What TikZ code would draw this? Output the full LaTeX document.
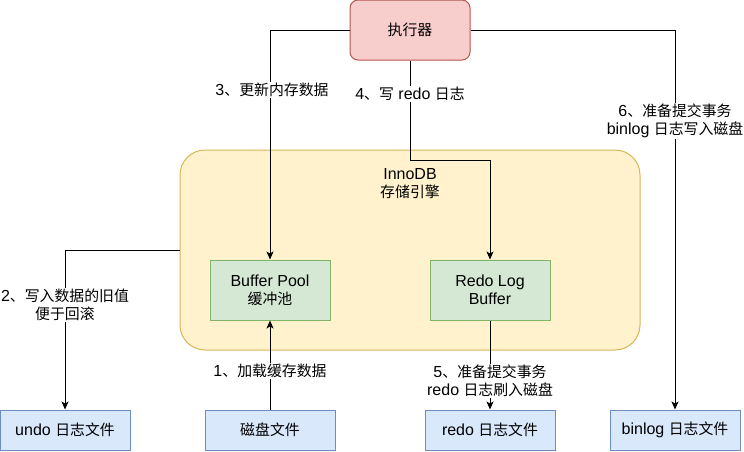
\documentclass[tikz,border=0pt]{standalone}
\usepackage{fontspec}
\setmainfont{Liberation Sans}
\newfontfamily\cjk[Scale=0.93]{Noto Sans CJK SC}
\newcommand{\zh}[1]{{\cjk #1}}
\usetikzlibrary{arrows.meta}
\definecolor{redfill}{HTML}{F8CECC}
\definecolor{redline}{HTML}{B85450}
\definecolor{yellowfill}{HTML}{FFF2CC}
\definecolor{yellowline}{HTML}{D6B656}
\definecolor{greenfill}{HTML}{D5E8D4}
\definecolor{greenline}{HTML}{82B366}
\definecolor{bluefill}{HTML}{DAE8FC}
\definecolor{blueline}{HTML}{6C8EBF}
\begin{document}
\begin{tikzpicture}[x=1pt,y=-1pt,line width=1pt,font=\fontsize{16}{18}\selectfont,
		box/.style={draw,minimum width=120pt,minimum height=60pt,align=center,inner sep=0pt},
		membox/.style={box,color=greenline,fill=greenfill,text=black},
		filebox/.style={draw=blueline,fill=bluefill,minimum width=130pt,minimum height=40pt,inner sep=0pt},
		lbl/.style={fill=white,align=center,inner sep=1pt},
		arr/.style={-{Stealth[length=8pt,width=7pt,inset=2pt]}}]
	\useasboundingbox (0,0) rectangle (744,451);
	\node[draw=yellowline,fill=yellowfill,rounded corners=25pt,minimum width=460pt,minimum height=200pt] (innodb) at (410,250) {};
	\node[align=center] (innodbtxt) at (410,184) {InnoDB\\\zh{存储引擎}};
	\node[box,draw=redline,fill=redfill,rounded corners=8pt] (exec) at (410,30) {\zh{执行器}};
	\node[membox] (pool) at (270,290) {Buffer Pool\\\zh{缓冲池}};
	\node[membox] (redobuf) at (490,290) {Redo Log\\Buffer};
	\node[filebox] (undo) at (65,430) {undo \zh{日志文件}};
	\node[filebox] (disk) at (270,430) {\zh{磁盘文件}};
	\node[filebox] (redofile) at (490,430) {redo \zh{日志文件}};
	\node[filebox] (binfile) at (675,430) {binlog \zh{日志文件}};
	\draw[arr] (disk.north) -- (pool.south);
	\draw[arr] (innodb.west) -| (undo.north);
	\draw[arr] (exec.west) -| (pool.north);
	\draw[arr] (exec.south) -- ++(0,100) -| (redobuf.north);
	\draw[arr] (redobuf.south) -- (redofile.north);
	\draw[arr] (exec.east) -| (binfile.north);
	\node[lbl] (step1) at (270,371) {1\zh{、加载缓存数据}};
	\node[lbl] (step2) at (65,305) {2\zh{、写入数据的旧值}\\\zh{便于回滚}};
	\node[lbl] (step3) at (272,90) {3\zh{、更新内存数据}};
	\node[lbl] (step4) at (410,94) {4\zh{、写} redo \zh{日志}};
	\node[lbl] (step5) at (490,381) {5\zh{、准备提交事务}\\redo \zh{日志刷入磁盘}};
	\node[lbl] (step6) at (675,121) {6\zh{、准备提交事务}\\binlog \zh{日志写入磁盘}};
\end{tikzpicture}
\end{document}
